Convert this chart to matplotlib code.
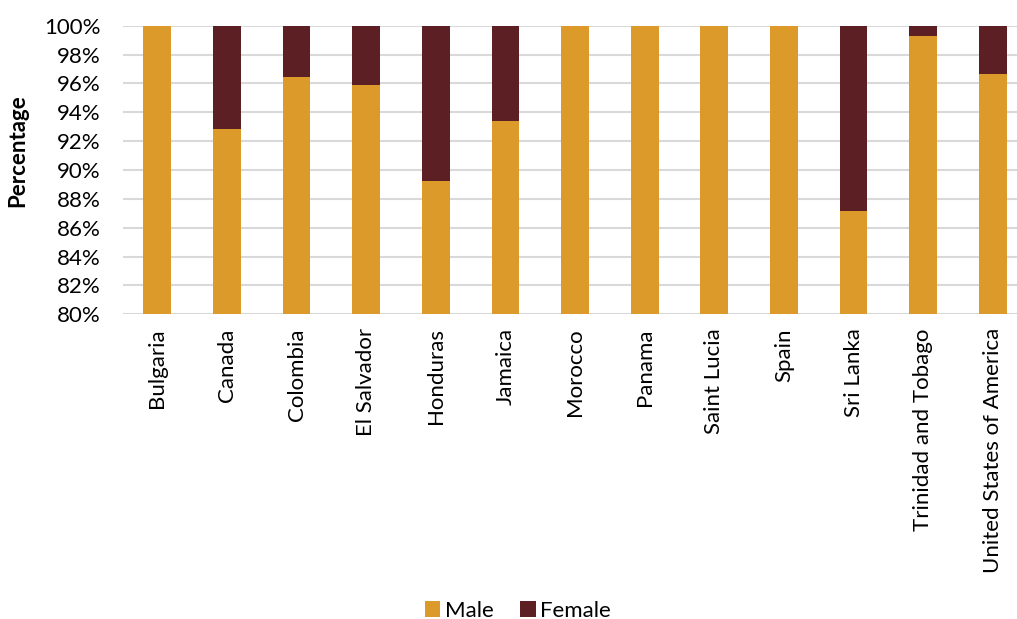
import matplotlib
matplotlib.use("Agg")
import matplotlib.pyplot as plt
from matplotlib.ticker import FuncFormatter

categories = ["Bulgaria", "Canada", "Colombia", "El Salvador", "Honduras", "Jamaica",
              "Morocco", "Panama", "Saint Lucia", "Spain", "Sri Lanka",
              "Trinidad and Tobago", "United States of America"]
male = [100.0, 92.85, 96.47, 95.87, 89.27, 93.4, 100.0, 100.0, 100.0, 100.0, 87.17, 99.29, 96.68]
female = [100 - m for m in male]

plt.rcParams['font.family'] = ['Lato', 'DejaVu Sans']

fig = plt.figure(figsize=(10.17, 6.19), dpi=100)
ax = fig.add_axes([122.5 / 1017, 304.7 / 619, (1017 - 122.5) / 1017, 288.6 / 619])

x = list(range(len(categories)))
c_male = "#DC9A2A"
c_female = "#5C1F23"
ax.bar(x, male, width=0.4, color=c_male, label="Male", zorder=3)
ax.bar(x, female, width=0.4, bottom=male, color=c_female, label="Female", zorder=3)

ax.set_ylim(80, 100)
ax.set_xlim(-0.5, 12 + (1017 - 992.8) / 69.65)
ax.set_yticks(range(80, 101, 2))
ax.yaxis.set_major_formatter(FuncFormatter(lambda v, p: f"{int(v)}%"))
ax.set_xticks(x)
ax.set_xticklabels(categories, rotation=90)
ax.tick_params(axis='both', length=0, labelsize=16, colors="#000000")
ax.tick_params(axis='x', pad=10)
ax.tick_params(axis='y', pad=16)
ax.grid(axis='y', color="#D9D9D9", linewidth=1.5, zorder=0)
for s in ax.spines.values():
    s.set_visible(False)

fig.text(18 / 1017, 1 - 151 / 619, "Percentage", rotation=90, ha='center', va='center',
         fontsize=16, fontweight='bold')

fig.legend(loc='center', bbox_to_anchor=(518 / 1017, 8 / 619), ncol=2, frameon=False,
           fontsize=16, handlelength=0.7, handleheight=0.7, handletextpad=0.2,
           columnspacing=1.2, borderpad=0)

fig.savefig("out.png", dpi=100)
